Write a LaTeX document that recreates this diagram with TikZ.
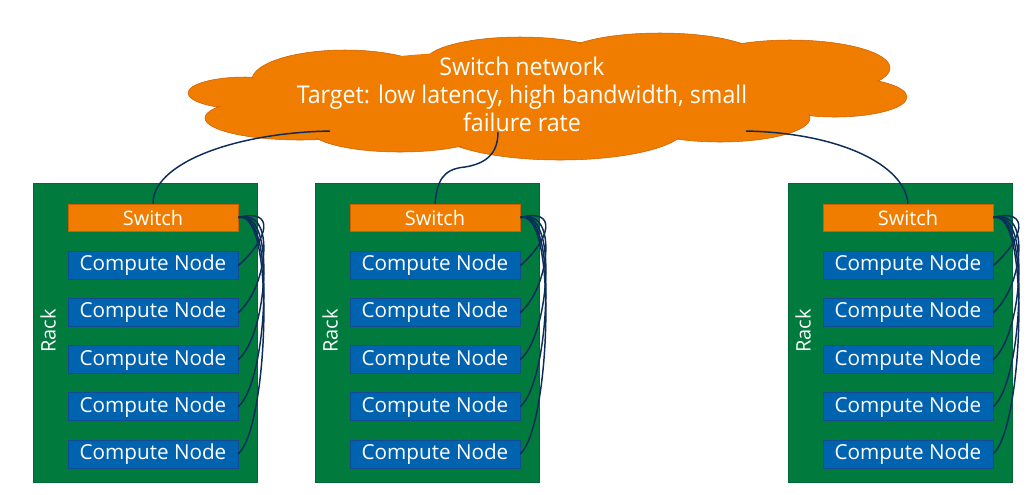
\documentclass[tikz,border=0pt]{standalone}
\usepackage{fontspec}
\setmainfont{Open Sans}
\newfontfamily\cloudfont[FakeStretch=0.95]{Open Sans}
\usetikzlibrary{positioning}
\definecolor{rackgreen}{RGB}{0,122,61}
\definecolor{nodeblue}{RGB}{0,99,176}
\definecolor{nodeedge}{RGB}{20,75,150}
\definecolor{switchorange}{RGB}{240,125,0}
\definecolor{switchedge}{RGB}{205,95,0}
\definecolor{linknavy}{RGB}{12,45,90}
\tikzstyle{rack} = [rectangle, fill=rackgreen, draw=rackgreen!85!black, minimum width=168pt, minimum height=224.25pt, inner sep=0pt]
\tikzstyle{racklabel} = [text=white, font=\fontsize{15}{18}\selectfont, rotate=90]
\tikzstyle{switch} = [rectangle, fill=switchorange, draw=switchedge, minimum width=127.5pt, minimum height=20.25pt, inner sep=0pt, text=white, font=\fontsize{15}{18}\selectfont]
\tikzstyle{compute} = [rectangle, fill=nodeblue, draw=nodeedge, minimum width=127.5pt, minimum height=21pt, inner sep=0pt, text=white, font=\fontsize{15.5}{18}\selectfont]
\tikzstyle{cloudpart} = [fill=switchorange, draw=switchedge, thin]
\tikzstyle{link} = [draw=linknavy, line width=1.1pt]

\begin{document}
\begin{tikzpicture}[x=0.75pt,y=-0.75pt,node distance=13.9pt]
	\useasboundingbox (0,0) rectangle (1033,494);
	% racks with one switch and five compute nodes each
	\foreach \r/\x in {a/145, b/427, c/900} {
		\node[rack] (rack\r) at (\x,332.5) {};
		\node[racklabel] (lbl\r) at (\x-97,331) {Rack};
		\node[switch] (sw\r) at (\x+8,217.5) {Switch};
		\node[compute, below=15pt of sw\r] (cn\r1) {Compute Node};
		\node[compute, below=of cn\r1] (cn\r2) {Compute Node};
		\node[compute, below=of cn\r2] (cn\r3) {Compute Node};
		\node[compute, below=of cn\r3] (cn\r4) {Compute Node};
		\node[compute, below=of cn\r4] (cn\r5) {Compute Node};
		\foreach \i in {1,...,5}
			\draw[link] (sw\r.east) .. controls +(38,-10) and +(30,-26) .. (cn\r\i.east);
	}
	% the cloud: outline of all lobes, then fill again to hide inner lines
	\def\lobes{245/93/57/16, 300/118/95/22, 345/80/93/30, 520/62/95/25, 660/58/100/25, 790/68/100/28, 835/97/72/20, 720/118/90/24, 560/128/125/32, 400/130/90/22}
	\foreach \cx/\cy/\rx/\ry in \lobes
		\draw[cloudpart] (\cx,\cy) ellipse [x radius=\rx, y radius=\ry];
	\foreach \cx/\cy/\rx/\ry in \lobes
		\fill[switchorange] (\cx,\cy) ellipse [x radius=\rx-1.5, y radius=\ry-1.5];
	\fill[switchorange] (540,95) ellipse [x radius=280, y radius=45];
	\node[text=white, align=center, font=\cloudfont\fontsize{18.3}{21}\selectfont] (net) at (522,94) {Switch network\\Target: low latency, high bandwidth, small\\failure rate};
	% uplinks into the cloud
	\coordinate (upa) at (330,131);
	\coordinate (upb) at (498,132);
	\coordinate (upc) at (746,131);
	\draw[link] (swa.north) .. controls (152,165) and (230,133) .. (upa);
	\draw[link] (swb.north) .. controls (437,182) and (442,169) .. (465,167) .. controls (490,163) and (498,150) .. (upb);
	\draw[link] (swc.north) .. controls (905,165) and (840,133) .. (upc);
\end{tikzpicture}
\end{document}
